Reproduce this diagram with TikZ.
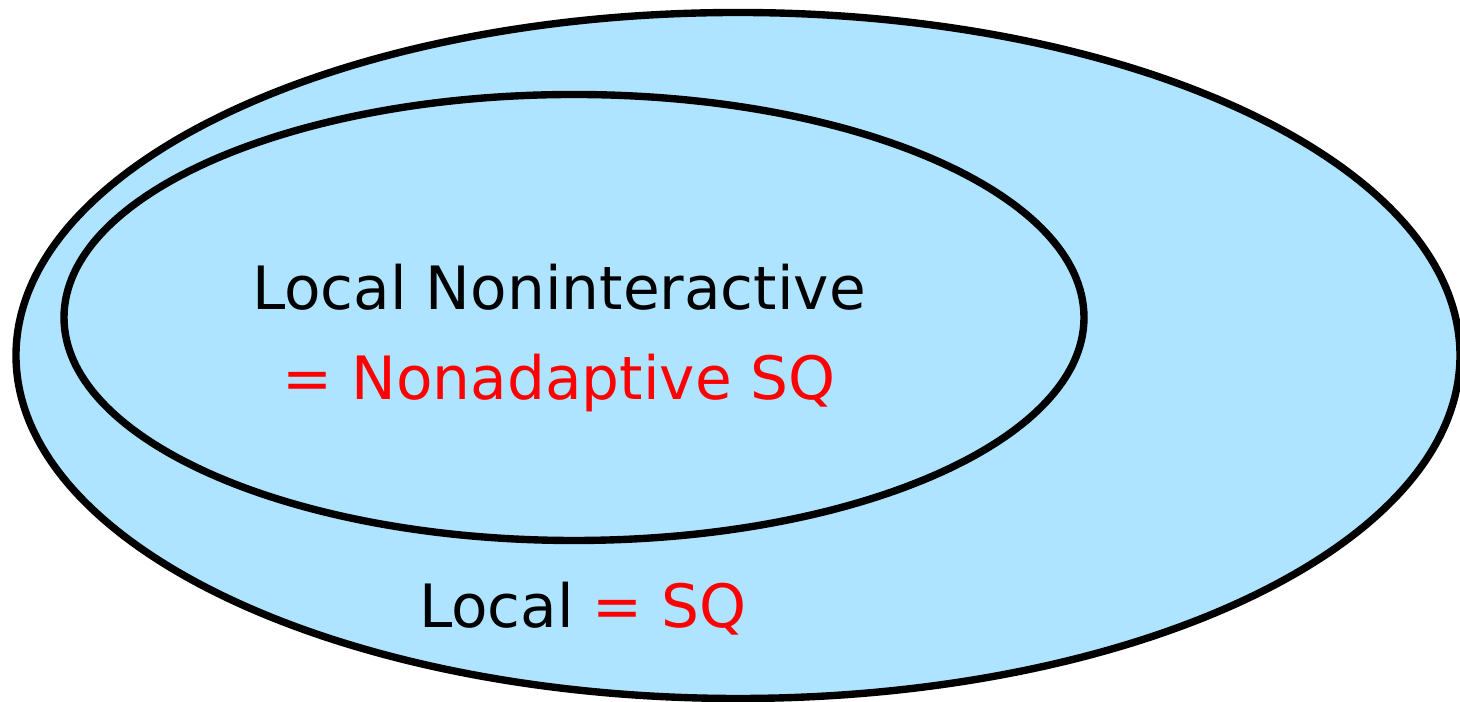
\documentclass[tikz,border=0pt]{standalone}
\usepackage{fontspec}
\setmainfont{DejaVu Sans}
\usepackage{tikz}
\usetikzlibrary{shapes,positioning}
\definecolor{setblue}{RGB}{174,228,255}
\definecolor{eqred}{RGB}{255,0,0}

\begin{document}
\begin{tikzpicture}[
    region/.style={draw=black, line width=2.1pt, fill=setblue},
    label/.style={anchor=base, align=center, font=\fontsize{17}{20}\selectfont}
]
\useasboundingbox (0,0) rectangle (14.6,7.02);

% Regions
\draw[region] (7.38,3.465) ellipse [x radius=7.22, y radius=3.43];
\draw[region] (5.74,3.845) ellipse [x radius=5.10, y radius=2.23];

% Labels
\node[label] (noninter) at (5.59,3.92) {Local Noninteractive};
\node[label, text=eqred] (nonadapt) at (5.59,3.02) {= Nonadaptive SQ};
\node[label] (local) at (5.83,0.74) {Local \textcolor{eqred}{= SQ}};

\end{tikzpicture}
\end{document}
